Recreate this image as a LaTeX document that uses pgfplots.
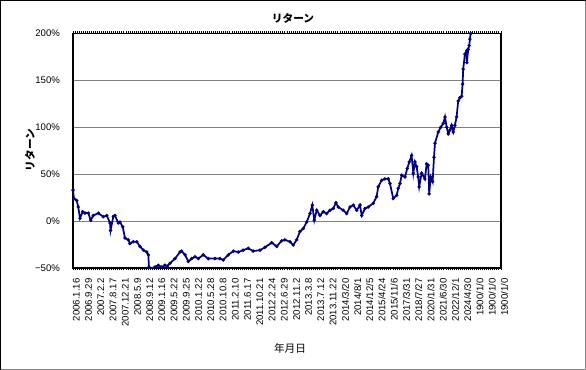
\documentclass[border=0pt]{standalone}
\usepackage{pgfplots}
\pgfplotsset{compat=1.18}
\usepackage{pgfplotstable}
\usepackage{fontspec}
\setmainfont{Liberation Sans}
\newfontfamily\jp{Noto Sans CJK JP}
\definecolor{navy}{HTML}{000080}
\definecolor{gridgray}{HTML}{808080}
\pgfplotstableread{
x y
0.00 33
0.08 24
0.30 22
0.43 15
0.57 3
0.79 10
0.98 8.5
1.25 8.5
1.45 1
1.66 6
2.07 8.5
2.48 4.6
2.76 6
3.03 -2
3.07 -10
3.30 5
3.43 6
3.70 -2
3.84 -1
4.06 -6
4.25 -18
4.52 -20
4.66 -24
4.93 -22
5.21 -22
5.48 -27
5.75 -31
6.03 -33
6.16 -36
6.21 -49
6.30 -51
6.70 -49
6.97 -47
7.25 -49
7.52 -47
7.71 -48
7.93 -45
8.34 -40
8.75 -33
8.89 -32
9.16 -36
9.43 -43
9.71 -40
9.98 -38
10.25 -40
10.65 -36
11.06 -40
11.61 -40
12.02 -40
12.29 -41.5
12.70 -36
13.11 -32
13.52 -33
13.92 -31
14.33 -29
14.74 -32
15.29 -31
15.70 -28
16.25 -23
16.66 -27
17.06 -21
17.33 -20
17.74 -22
18.01 -25.5
18.29 -20
18.56 -11
18.83 -8
19.11 -1
19.38 8
19.57 17
19.73 1
19.93 11.5
20.20 6
20.47 10
20.74 8
21.01 11.5
21.28 13.5
21.50 19.5
21.69 15
22.10 11.5
22.38 8
22.65 15
22.92 17
23.20 11.5
23.47 17
23.61 6
23.88 13.5
24.15 15
24.55 19
24.83 26
24.96 36.5
25.24 43.5
25.51 45
25.78 45
25.92 40
26.19 24
26.47 27.5
26.60 35
26.74 40
26.88 49
27.15 47
27.33 56
27.50 63
27.69 70
27.83 51
27.96 63
28.10 58
28.23 47
28.31 36.5
28.51 51
28.78 45
28.92 61
29.05 59.5
29.13 29
29.25 47
29.41 42
29.52 68
29.60 83
29.87 95
30.07 100
30.28 104
30.42 111
30.56 100
30.69 93
30.83 97
30.96 102
31.10 95
31.23 102
31.37 111
31.50 128
31.64 131.5
31.78 133
31.86 146
31.91 162
32.05 178
32.19 181.5
32.21 169
32.32 183
32.40 187
32.46 194
32.52 200
}\returns
\begin{document}
\begin{tikzpicture}
% outer frame of the chart area (586 x 370 px, 1px = 0.75pt)
\path[use as bounding box] (0,0) rectangle (439.5pt,277.5pt);
\draw[black, line width=0.9pt] (0.4pt,0.4pt) rectangle (439.1pt,277.1pt);
\draw[gridgray, line width=0.9pt] (0.4pt,0.4pt) -- (439.1pt,0.4pt) -- (439.1pt,277.1pt);
\begin{axis}[
  at={(54.75pt,76.5pt)}, anchor=south west,
  scale only axis, width=321pt, height=175.9pt,
  xmin=0, xmax=35, ymin=-50, ymax=200,
  axis line style={black, line width=0.9pt},
  xtick={0,...,35},
  xticklabels={2006.1.16,2006.9.29,2007.2.2,2007.8.17,2007.12.21,2008.5.9,2008.9.12,2009.1.16,2009.5.22,2009.9.25,2010.1.22,2010.5.28,2010.10.8,2011.2.10,2011.6.17,2011.10.21,2012.2.24,2012.6.29,2012.11.2,2013.3.8,2013.7.12,2013.11.22,2014/3/20,2014/8/1,2014/12/5,2015/4/24,2015/11/6,2017/3/31,2018/7/27,2020/1/31,2021/6/30,2022/12/1,2024/4/30,1900/1/0,1900/1/0,1900/1/0},
  minor x tick num=5,
  tick align=outside,
  x tick style={black, line width=0.7pt},
  major tick length=1.8pt, minor tick length=1.8pt,
  xticklabel style={font=\fontsize{7.2}{8}\selectfont, rotate=90, anchor=east, xshift=-2.5pt, yshift=-2.5pt},
  ytick={-50,0,50,100,150,200},
  yticklabels={−50\%,0\%,50\%,100\%,150\%,200\%},
  ytick style={draw=none},
  yticklabel style={font=\fontsize{7.2}{8}\selectfont, xshift=-4.5pt},
  ymajorgrids, major grid style={gridgray, line width=0.8pt},
  clip=true,
]
\addplot[navy, line width=1.3pt, mark=*, mark size=0.5pt] table[x=x,y=y] {\returns};
\end{axis}
\node[font=\jp\bfseries\fontsize{8}{9}\selectfont] at (219.75pt,264pt) {リターン};
\node[font=\jp\bfseries\fontsize{8}{9}\selectfont, rotate=90] at (22.5pt,165pt) {リターン};
\node[font=\jp\fontsize{8}{9}\selectfont] at (217.5pt,16.5pt) {年月日};
\end{tikzpicture}
\end{document}
